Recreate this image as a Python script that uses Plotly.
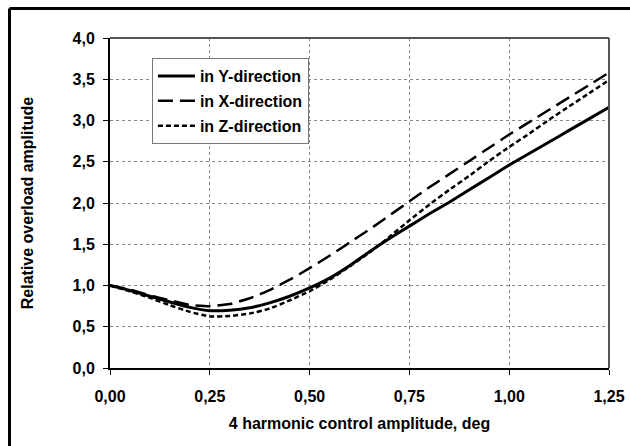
import plotly.graph_objects as go

# x: 4 harmonic control amplitude, deg
amplitude = [0.00, 0.05, 0.10, 0.15, 0.20, 0.25, 0.30, 0.35, 0.40, 0.45, 0.50, 0.55, 0.60,
             0.65, 0.70, 0.75, 0.80, 0.85, 0.90, 0.95, 1.00, 1.05, 1.10, 1.15, 1.20, 1.25]

y_dir = [1.00, 0.94, 0.87, 0.80, 0.735, 0.695, 0.70, 0.73, 0.79, 0.87, 0.97, 1.09, 1.24,
         1.41, 1.57, 1.72, 1.87, 2.01, 2.16, 2.31, 2.46, 2.60, 2.74, 2.88, 3.02, 3.16]
x_dir = [1.00, 0.95, 0.88, 0.82, 0.765, 0.75, 0.775, 0.845, 0.945, 1.07, 1.21, 1.36, 1.52,
         1.68, 1.85, 2.02, 2.19, 2.35, 2.51, 2.67, 2.83, 2.98, 3.13, 3.28, 3.43, 3.58]
z_dir = [1.00, 0.93, 0.85, 0.76, 0.68, 0.625, 0.63, 0.66, 0.72, 0.82, 0.93, 1.07, 1.23,
         1.40, 1.59, 1.79, 1.98, 2.16, 2.33, 2.51, 2.68, 2.84, 3.01, 3.17, 3.33, 3.49]

series_names = ["in Y-direction", "in X-direction", "in Z-direction"]
x_ticks = [0, 0.25, 0.5, 0.75, 1.0, 1.25]
y_ticks = [0, 0.5, 1.0, 1.5, 2.0, 2.5, 3.0, 3.5, 4.0]

FONT = "Arial, Liberation Sans, sans-serif"
FS = 16

fig = go.Figure()
styles = [
    dict(color="black", width=3, dash="solid"),
    dict(color="black", width=2.5, dash="15px,7px"),
    dict(color="black", width=2.5, dash="5px,3px"),
]
for name, ys, st, g in zip(series_names, [y_dir, x_dir, z_dir], styles, ["a", "b", "c"]):
    fig.add_trace(go.Scatter(x=amplitude, y=ys, mode="lines", name=name,
                             line=dict(shape="spline", smoothing=0.4, **st),
                             legendgroup=g))

axis_common = dict(
    showline=True, linecolor="black", linewidth=2,
    ticks="outside", ticklen=5, tickcolor="black", tickwidth=1,
    showgrid=True, gridcolor="#888888", gridwidth=1, griddash="dot",
    zeroline=False, automargin=False,
    tickfont=dict(family=FONT, size=FS, color="black", weight="bold"),
)

fig.update_xaxes(range=[0, 1.25], tickvals=x_ticks, tickformat=".2f",
                 ticklabelstandoff=8,
                 title=dict(text="4 harmonic control amplitude, deg",
                            font=dict(family=FONT, size=FS, color="black", weight="bold"),
                            standoff=14),
                 **axis_common)
fig.update_yaxes(range=[0, 4.0], tickvals=y_ticks, tickformat=".1f",
                 ticklabelstandoff=5,
                 title=dict(text="Relative overload amplitude",
                            font=dict(family=FONT, size=FS, color="black", weight="bold"),
                            standoff=35),
                 **axis_common)

# plot-area top/right border (gray)
fig.add_shape(type="line", xref="paper", yref="paper", x0=0, x1=1, y0=1, y1=1,
              line=dict(color="#555555", width=2), layer="above")
fig.add_shape(type="line", xref="paper", yref="paper", x0=1, x1=1, y0=0, y1=1,
              line=dict(color="#555555", width=2), layer="above")
# outer frame (left and top visible)
fig.add_shape(type="line", xref="paper", yref="paper", x0=-0.2014, x1=-0.2014, y0=-0.4, y1=1.0894,
              line=dict(color="black", width=3), layer="above")
fig.add_shape(type="line", xref="paper", yref="paper", x0=-0.2014, x1=1.2, y0=1.0894, y1=1.0894,
              line=dict(color="black", width=3), layer="above")

fig.update_layout(
    width=630, height=446,
    margin=dict(l=110, r=21, t=38, b=78, autoexpand=False),
    paper_bgcolor="white", plot_bgcolor="white",
    separators=", ",
    font=dict(family=FONT, size=FS, color="black"),
    showlegend=True,
    legend=dict(x=0.084, y=0.939, xanchor="left", yanchor="top",
                bgcolor="white", bordercolor="#777777", borderwidth=1,
                font=dict(family=FONT, size=FS, color="black", weight="bold"),
                tracegroupgap=1, itemwidth=37),
)

fig.write_html("out.html")
